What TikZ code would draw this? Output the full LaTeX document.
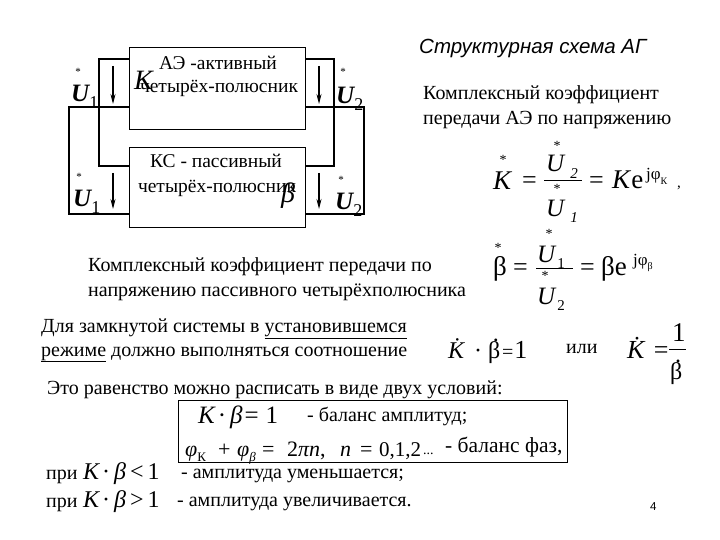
\documentclass[tikz,border=0pt]{standalone}
\usepackage{fontspec}
\usetikzlibrary{arrows.meta}
\setmainfont{Liberation Serif}
\setsansfont{Liberation Sans}
\newcommand{\fs}[1]{\fontsize{#1}{#1}\selectfont}
\newcommand{\lo}[2][12]{\raisebox{-0.25em}{\fs{#1}#2}}
\newcommand{\dotbeta}{\makebox[0pt][l]{\hspace{0.2em}\raisebox{0.68em}{.}}β}
\begin{document}
\begin{tikzpicture}[x=1pt,y=-1pt,
  box/.style={draw,line width=1.3pt,minimum width=176pt,anchor=north west,inner sep=0pt},
  wire/.style={draw,line width=1.1pt,line join=miter},
  volt/.style={draw,line width=1.1pt,-{Stealth[length=10pt,width=5pt]}},
  txt/.style={anchor=base west,inner sep=0pt,font=\fs{20}},
  ctr/.style={anchor=base,inner sep=0pt,font=\fs{19.5}},
  sym/.style={anchor=base west,inner sep=0pt,font=\fs{25}\itshape},
  usym/.style={anchor=base west,inner sep=0pt,font=\fs{25}\itshape\bfseries},
  frm/.style={anchor=base west,inner sep=0pt,font=\fs{24}},
  mk/.style={anchor=center,inner sep=0pt,font=\fs{11}},
  bigmk/.style={anchor=center,inner sep=0pt,font=\fs{14}}]
\useasboundingbox (0,0) rectangle (720,540);
\fill[white] (0,0) rectangle (720,540);
% boxes
\node[box,minimum height=82pt] (ae) at (129,47) {};
\node[box,minimum height=80pt] (ks) at (129,147) {};
% port coordinates
\coordinate (aelt) at (129,59); \coordinate (aelb) at (129,107);
\coordinate (aert) at (305,59); \coordinate (aerb) at (305,107);
\coordinate (kslt) at (129,166); \coordinate (kslb) at (129,214);
\coordinate (ksrt) at (305,166); \coordinate (ksrb) at (305,214);
\draw[wire] (aelt) -| (99,166) -- (kslt);
\draw[wire] (aelb) -| (69,214) -- (kslb);
\draw[wire] (aert) -| (334,166) -- (ksrt);
\draw[wire] (aerb) -| (364,214) -- (ksrb);
% voltage arrows
\coordinate (a1) at (113,66); \coordinate (a1e) at (113,104);
\coordinate (a2) at (113,173); \coordinate (a2e) at (113,209);
\coordinate (a3) at (319,66); \coordinate (a3e) at (319,104);
\coordinate (a4) at (319,173); \coordinate (a4e) at (319,209);
\draw[volt] (a1) -- (a1e); \draw[volt] (a2) -- (a2e);
\draw[volt] (a3) -- (a3e); \draw[volt] (a4) -- (a4e);
% box text
\node[ctr] (t1) at (218,70) {АЭ -активный};
\node[ctr] (t2) at (219,93) {четырёх-полюсник};
\node[ctr] (t3) at (216,168) {КС - пассивный};
\node[ctr] (t4) at (217,193) {четырёх-полюсник};
\node[sym,font=\fs{28}\itshape] (k0) at (134,90) {K};
\node[sym,font=\fs{28}\itshape] (b0) at (281,203) {β};
% voltages
\node[usym] (u1) at (71,102) {U\lo[18]{\upshape\mdseries 1}};
\node[mk] (u1m) at (78,72) {*};
\node[usym] (u2) at (73,207) {U\lo[18]{\upshape\mdseries 1}};
\node[mk] (u2m) at (79,177) {*};
\node[usym] (u3) at (336,104) {U\lo[18]{\upshape\mdseries 2}};
\node[mk] (u3m) at (343,72) {*};
\node[usym] (u4) at (335,210) {U\lo[18]{\upshape\mdseries 2}};
\node[mk] (u4m) at (341,180) {*};
% right header
\node[txt,font=\fs{20.5}\sffamily\itshape] (title) at (419,54) {Структурная схема АГ};
\node[txt] (l1) at (423,100) {Комплексный коэффициент};
\node[txt] (l2) at (423,125) {передачи АЭ по напряжению};
% formula K
\node[bigmk] (fk1) at (503,160) {*};
\node[frm,font=\fs{27}\itshape] (fk) at (493,190) {K};
\node[frm,font=\fs{26}] (fk2) at (522,189) {=};
\node[bigmk] (fu1) at (557,146) {*};
\node[frm,font=\fs{25}\itshape] (fu2) at (546,172) {U\hspace{6pt}\lo[15]{2}};
\coordinate (fl1a) at (544,180); \coordinate (fl1b) at (582,180);
\draw[line width=.6pt] (fl1a) -- (fl1b);
\node[bigmk] (fu3) at (557,189) {*};
\node[frm,font=\fs{25}\itshape] (fu4) at (546,216) {U\hspace{6pt}\lo[15]{1}};
\node[frm,font=\fs{26}] (fk3) at (589,189) {=};
\node[frm,font=\fs{27}] (fk4) at (612,189) {\textit{K}e};
\node[anchor=base west,inner sep=0pt,font=\fs{17}] (fk5) at (646,180) {jφ\lo[10]{К}};
\node[txt,font=\fs{15}] (fk6) at (677,188) {,};
% formula beta
\node[bigmk] (fb0) at (498,248) {*};
\node[frm,font=\fs{27}] (fb) at (493,275) {β};
\node[frm,font=\fs{26}] (fb1) at (513,275) {=};
\node[bigmk] (fb2) at (549,234) {*};
\node[frm,font=\fs{25}\itshape] (fb3) at (537,262) {U\hspace{2pt}\lo[15]{\upshape 1}};
\coordinate (fl2a) at (536,268); \coordinate (fl2b) at (573,268);
\draw[line width=.9pt] (fl2a) -- (fl2b);
\node[bigmk] (fb4) at (545,276) {*};
\node[frm,font=\fs{25}\itshape] (fb5) at (537,304) {U\hspace{2pt}\lo[15]{\upshape 2}};
\node[frm,font=\fs{26}] (fb6) at (580,275) {=};
\node[frm,font=\fs{27}] (fb7) at (601,275) {βe};
\node[anchor=base west,inner sep=0pt,font=\fs{17}] (fb8) at (633,265) {jφ\lo[10]{β}};
% middle text
\node[txt] (m1) at (88,271) {Комплексный коэффициент передачи по};
\node[txt] (m2) at (88,296) {напряжению пассивного четырёхполюсника};
\node[txt] (m3) at (41,332) {Для замкнутой системы в \underline{установившемся}};
\node[txt] (m4) at (41,356) {\underline{режиме} должно выполняться соотношение};
\node[frm] (r1) at (448,358) {\textit{\.K}\hspace{3pt}·\hspace{6pt}\dotbeta\hspace{2pt}{\fs{20}=}\hspace{1pt}{\fs{26}1}};
\node[txt] (r2) at (566,353) {или};
\node[frm,font=\fs{26}] (r3) at (627,358) {\textit{\.K}\hspace{2pt}=};
\node[frm,font=\fs{27}] (r4) at (672,341) {1};
\coordinate (fl3a) at (669,349); \coordinate (fl3b) at (686,349);
\draw[line width=.7pt] (fl3a) -- (fl3b);
\node[frm] (r5) at (670,379) {\dotbeta};
\node[txt] (n0) at (47,394) {Это равенство можно расписать в виде двух условий:};
% boxed conditions
\node[draw,line width=.8pt,anchor=north west,minimum width=389pt,minimum height=62pt,inner sep=0pt] (cond) at (178,400) {};
\node[sym] (c1) at (198,423) {K\hspace{3pt}\upshape·\hspace{4pt}\itshape β\hspace{2pt}\upshape=\hspace{7pt}1};
\node[txt] (c2) at (307,421) {- баланс амплитуд;};
\node[sym,font=\fs{22}\itshape] (c3a) at (185,456) {φ\lo[13]{\upshape К}};
\node[sym,font=\fs{22}] (c3b) at (218,456) {\upshape +};
\node[sym,font=\fs{22}\itshape] (c3c) at (237,456) {φ\lo[13]{β}};
\node[sym,font=\fs{22}] (c3d) at (262,456) {\upshape=};
\node[sym,font=\fs{22}] (c3e) at (287,456) {\upshape2\itshape πn\upshape,};
\node[sym,font=\fs{22}\itshape] (c3f) at (340,456) {n};
\node[sym,font=\fs{22}] (c3g) at (360,456) {\upshape=};
\node[sym,font=\fs{21}] (c3i) at (379,456) {\upshape 0,1,2};
\node[txt,font=\fs{14}] (c3h) at (423,454) {...};
\node[txt,font=\fs{21.5}] (c4) at (445,452) {- баланс фаз,};
\node[txt] (b0t) at (46,479) {при};
\node[sym,font=\fs{24}] (b1) at (83,479) {\itshape K\hspace{3pt}\upshape·\hspace{4pt}\itshape β\hspace{4pt}\upshape<\hspace{4pt}1};
\node[txt] (b2) at (181,478) {- амплитуда уменьшается;};
\node[txt] (b3t) at (46,507) {при};
\node[sym,font=\fs{24}] (b3) at (83,507) {\itshape K\hspace{3pt}\upshape·\hspace{4pt}\itshape β\hspace{4pt}\upshape>\hspace{4pt}1};
\node[txt] (b4) at (177,506) {- амплитуда увеличивается.};
\node[txt,font=\fs{11.5}\sffamily] (pg) at (650,510) {4};
\end{tikzpicture}
\end{document}
